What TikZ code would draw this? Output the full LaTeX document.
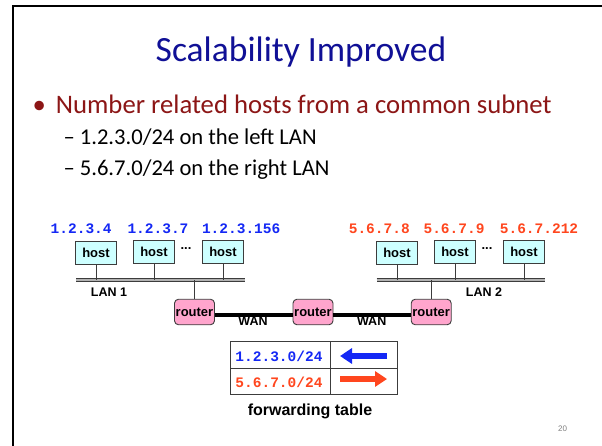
\documentclass[tikz,border=0pt]{standalone}
\usepackage{fontspec}
\setmainfont{Carlito}
\newfontfamily\helv{Liberation Sans}
\newfontfamily\cour{Liberation Mono}
\usetikzlibrary{arrows.meta}
\definecolor{titleblue}{RGB}{16,16,150}
\definecolor{bulletred}{RGB}{140,22,22}
\definecolor{ipblue}{RGB}{20,40,245}
\definecolor{ipred}{RGB}{255,70,30}
\definecolor{hostfill}{RGB}{205,255,255}
\definecolor{routerfill}{RGB}{255,165,205}
\definecolor{edge}{RGB}{60,60,60}
\begin{document}
\begin{tikzpicture}[x=1pt,y=-1pt,
  hostbox/.style={draw=edge,line width=0.9pt,fill=hostfill,minimum width=41pt,minimum height=23pt,inner sep=0pt,
    font=\helv\bfseries\fontsize{13}{13}\selectfont},
  routerbox/.style={draw=edge,line width=0.9pt,fill=routerfill,rounded corners=4pt,minimum width=40pt,minimum height=25.5pt,inner sep=0pt,
    font=\helv\bfseries\fontsize{13}{13}\selectfont},
  iplabel/.style={font=\cour\bfseries\fontsize{14.5}{14.5}\selectfont,inner sep=0pt},
  netlabel/.style={font=\helv\bfseries\fontsize{12.5}{12.5}\selectfont,inner sep=0pt},
  dots/.style={font=\helv\bfseries\fontsize{13}{13}\selectfont,inner sep=0pt},
  bus/.style={draw=edge,line width=1.7pt,double=gray!60,double distance=1.2pt},
  drop/.style={draw=edge,line width=0.9pt},
  wan/.style={draw=black,line width=4.8pt},
  cellline/.style={draw=edge,line width=0.9pt},
  fwdarrow/.style={line width=6.8pt,-{Triangle[length=12pt,width=15pt]}},
  bodytext/.style={anchor=base west,inner sep=0pt}
]
\useasboundingbox (0,0) rectangle (602,446);
\fill[white] (0,0) rectangle (602,446);

% slide frame
\draw[line width=2.2pt] (602,6) -- (12.8,6) -- (12.8,446);

% title and bullets
\node[text=titleblue,font=\fontsize{35.5}{35.5}\selectfont,anchor=base,inner sep=0pt] (title) at (301,61.7) {Scalability Improved};
\node[text=bulletred,font=\fontsize{26.7}{26.7}\selectfont,anchor=base,inner sep=0pt] (dot) at (39.3,113.3) {\textbullet};
\node[bodytext,text=bulletred,font=\fontsize{26.7}{26.7}\selectfont] (b1) at (55.7,113.3) {Number related hosts from a common subnet};
\node[bodytext,font=\fontsize{22.6}{22.6}\selectfont] (s1) at (63.3,144.5) {\textendash\ 1.2.3.0/24 on the left LAN};
\node[bodytext,font=\fontsize{22.6}{22.6}\selectfont] (s2) at (63.3,176) {\textendash\ 5.6.7.0/24 on the right LAN};

% address labels
\node[iplabel,text=ipblue] (ipa) at (81.2,228.5) {1.2.3.4};
\node[iplabel,text=ipblue] (ipb) at (158,228.5) {1.2.3.7};
\node[iplabel,text=ipblue] (ipc) at (241.2,228.5) {1.2.3.156};
\node[iplabel,text=ipred] (ipd) at (379.3,228.5) {5.6.7.8};
\node[iplabel,text=ipred] (ipe) at (454,228.5) {5.6.7.9};
\node[iplabel,text=ipred] (ipf) at (539,228.5) {5.6.7.212};

% hosts
\node[hostbox] (h1) at (96,253) {host};
\node[hostbox] (h2) at (154,251.7) {host};
\node[hostbox] (h3) at (223,251.7) {host};
\node[hostbox] (h4) at (397,253) {host};
\node[hostbox] (h5) at (455,251.7) {host};
\node[hostbox] (h6) at (524,251.7) {host};
\node[dots] (d1) at (186,248.5) {...};
\node[dots] (d2) at (487,248.5) {...};

% LAN buses
\coordinate (lan1w) at (76,280);
\coordinate (lan1e) at (244.5,280);
\coordinate (lan2w) at (376.5,280);
\coordinate (lan2e) at (545,280);
\draw[bus] (lan1w) -- (lan1e);
\draw[bus] (lan2w) -- (lan2e);
\node[netlabel] (lan1) at (109,292) {LAN 1};
\node[netlabel] (lan2) at (484,292) {LAN 2};

% drops from hosts to the buses
\foreach \h in {h1,h2,h3} \draw[drop] (\h.south) -- (\h.south |- lan1w);
\foreach \h in {h4,h5,h6} \draw[drop] (\h.south) -- (\h.south |- lan2w);

% routers
\node[routerbox] (r1) at (194.5,312) {router};
\node[routerbox] (r2) at (313,312) {router};
\node[routerbox] (r3) at (431.2,312) {router};
\draw[drop] (r1.north) -- (r1.north |- lan1w);
\draw[drop] (r3.north) -- (r3.north |- lan2w);

% WAN links
\draw[wan] ([yshift=-3pt]r1.east) -- ([yshift=-3pt]r2.west);
\draw[wan] ([yshift=-3pt]r2.east) -- ([yshift=-3pt]r3.west);
\node[netlabel] (wan1) at (253,321) {WAN};
\node[netlabel] (wan2) at (371.7,321) {WAN};

% forwarding table
\coordinate (tnw) at (230,341);
\coordinate (tse) at (397,394);
\draw[cellline] (tnw) rectangle (tse);
\draw[cellline] (230,368.5) -- (397,368.5);
\draw[cellline] (330,341) -- (330,394);
\node[iplabel,text=ipblue] (p1) at (279,356) {1.2.3.0/24};
\node[iplabel,text=ipred] (p2) at (279,382) {5.6.7.0/24};
\coordinate (a1r) at (387,356);
\coordinate (a1l) at (340,356);
\coordinate (a2l) at (340,379);
\coordinate (a2r) at (387,379);
\draw[fwdarrow,ipblue] (a1r) -- (a1l);
\draw[fwdarrow,ipred] (a2l) -- (a2r);
\node[font=\helv\bfseries\fontsize{16}{16}\selectfont,inner sep=0pt] (cap) at (310,411) {forwarding table};

% slide number
\node[text=gray,font=\helv\fontsize{8}{8}\selectfont,inner sep=0pt] (num) at (562.5,428.5) {20};
\end{tikzpicture}
\end{document}
